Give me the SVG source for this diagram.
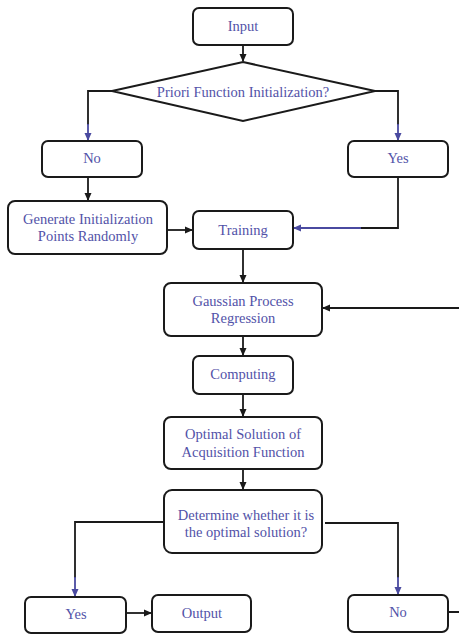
<svg xmlns="http://www.w3.org/2000/svg" width="459" height="640" viewBox="0 0 459 640">
<defs>
<style>
.box{fill:#fff;stroke:#1a1a1a;stroke-width:2}
.t{font-family:"Liberation Serif","Times New Roman",serif;font-size:14.5px;fill:#5252a8;text-anchor:middle;dominant-baseline:central}
.c{fill:none;stroke:#1a1a1a;stroke-width:1.8}
.cb{fill:none;stroke:#4a4aa0;stroke-width:1.8}
</style>
<marker id="ak" markerWidth="8" markerHeight="8" refX="7" refY="4" orient="auto" markerUnits="userSpaceOnUse"><path d="M0,0.5 L8,4 L0,7.5 Z" fill="#1a1a1a"/></marker>
<marker id="ab" markerWidth="8" markerHeight="8" refX="7" refY="4" orient="auto" markerUnits="userSpaceOnUse"><path d="M0,0.5 L8,4 L0,7.5 Z" fill="#4a4aa0"/></marker>
</defs>
<rect width="459" height="640" fill="#fff"/>
<g id="connectors">
<path class="c" d="M243,45 V61" marker-end="url(#ak)"/>
<path class="c" d="M112,91 H88 V125"/>
<path class="cb" d="M88,124 V140" marker-end="url(#ab)"/>
<path class="c" d="M375,91 H398 V125"/>
<path class="cb" d="M398,124 V140" marker-end="url(#ab)"/>
<path class="c" d="M88,177 V200" marker-end="url(#ak)"/>
<path class="c" d="M167,230 H192" marker-end="url(#ak)"/>
<path class="c" d="M398,177 V228 H360"/>
<path class="cb" d="M361,228 H294" marker-end="url(#ab)"/>
<path class="c" d="M243,249 V282" marker-end="url(#ak)"/>
<path class="c" d="M460,308 H323" marker-end="url(#ak)"/>
<path class="c" d="M243,336 V355" marker-end="url(#ak)"/>
<path class="c" d="M243,394 V416" marker-end="url(#ak)"/>
<path class="c" d="M243,469 V489" marker-end="url(#ak)"/>
<path class="c" d="M164,522 H75 V578"/>
<path class="cb" d="M75,577 V596" marker-end="url(#ab)"/>
<path class="c" d="M325,523 H398 V578"/>
<path class="cb" d="M398,577 V594" marker-end="url(#ab)"/>
<path class="c" d="M126,613 H151" marker-end="url(#ak)"/>
<path class="c" d="M448,612 H460 V308"/>
</g>
<g id="input"><rect class="box" x="193" y="8" width="100" height="37" rx="6"/><text class="t" x="243" y="26">Input</text></g>
<g id="priori"><polygon class="box" points="243,62 375,91 243,121 112,91"/><text class="t" x="243" y="92">Priori Function Initialization?</text></g>
<g id="no1"><rect class="box" x="42" y="141" width="100" height="36" rx="6"/><text class="t" x="92" y="158">No</text></g>
<g id="yes1"><rect class="box" x="348" y="141" width="100" height="36" rx="6"/><text class="t" x="398" y="158">Yes</text></g>
<g id="generate"><rect class="box" x="8" y="201" width="159" height="53" rx="7"/><text class="t" x="88" y="219">Generate Initialization</text><text class="t" x="88" y="236">Points Randomly</text></g>
<g id="training"><rect class="box" x="193" y="211" width="100" height="38" rx="6"/><text class="t" x="243" y="230">Training</text></g>
<g id="gpr"><rect class="box" x="164" y="283" width="158" height="53" rx="7"/><text class="t" x="243" y="301">Gaussian Process</text><text class="t" x="243" y="318">Regression</text></g>
<g id="computing"><rect class="box" x="193" y="356" width="100" height="38" rx="6"/><text class="t" x="243" y="374">Computing</text></g>
<g id="optimal"><rect class="box" x="164" y="417" width="158" height="52" rx="7"/><text class="t" x="243" y="434">Optimal Solution of</text><text class="t" x="243" y="452">Acquisition Function</text></g>
<g id="determine"><rect class="box" x="164" y="490" width="158" height="63" rx="8"/><text class="t" x="246" y="515">Determine whether it is</text><text class="t" x="246" y="532">the optimal solution?</text></g>
<g id="yes2"><rect class="box" x="25" y="597" width="101" height="36" rx="6"/><text class="t" x="76" y="614">Yes</text></g>
<g id="output"><rect class="box" x="152" y="595" width="99" height="37" rx="6"/><text class="t" x="202" y="613">Output</text></g>
<g id="no2"><rect class="box" x="348" y="595" width="100" height="37" rx="6"/><text class="t" x="398" y="612">No</text></g>
</svg>
